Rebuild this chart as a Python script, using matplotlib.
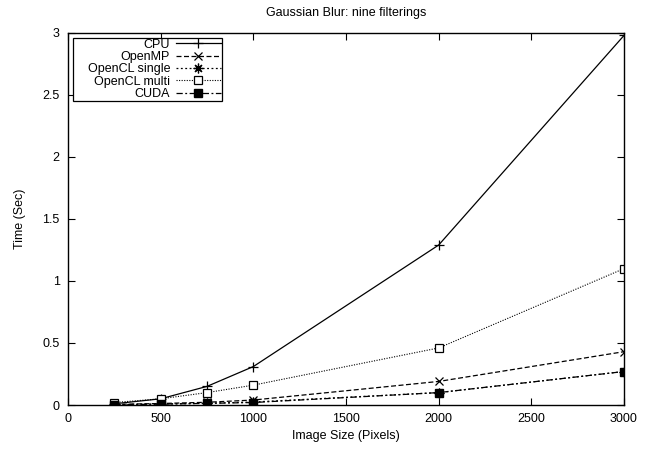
import matplotlib
matplotlib.use("Agg")
import matplotlib.pyplot as plt

plt.rcParams['font.family'] = ['Liberation Sans', 'DejaVu Sans']

sizes = [250, 500, 750, 1000, 2000, 3000]
cpu = [0.01, 0.05, 0.15, 0.31, 1.29, 2.98]
openmp = [0.005, 0.012, 0.022, 0.04, 0.19, 0.43]
ocl_single = [0.003, 0.008, 0.014, 0.024, 0.10, 0.27]
ocl_multi = [0.02, 0.05, 0.10, 0.16, 0.46, 1.10]
cuda = [0.002, 0.007, 0.013, 0.02, 0.10, 0.27]
labels = ['CPU', 'OpenMP', '    OpenCL single', 'OpenCL multi', 'CUDA']

fig = plt.figure(figsize=(6.5, 4.5), dpi=100)
ax = fig.add_axes([0.1046, 0.1, 0.8554, 0.8267])

ax.plot(sizes, cpu, color='black', lw=0.9, ls='-', marker='+', ms=7, mew=0.9, label=labels[0])
ax.plot(sizes, openmp, color='black', lw=0.9, ls=(0, (4, 2)), marker='x', ms=6, mew=0.9, label=labels[1])
ax.plot(sizes, ocl_single, color='black', lw=0.9, ls=(0, (1.5, 2)), marker=(8, 2, 0), ms=7, mew=0.9, label=labels[2])
ax.plot(sizes, ocl_multi, color='black', lw=0.8, ls=(0, (1, 1.3)), marker='s', ms=6, mfc='white', mew=0.9, label=labels[3])
ax.plot(sizes, cuda, color='black', lw=0.9, ls=(0, (5, 2, 1.5, 2)), marker='s', ms=6, label=labels[4])

ax.set_xlim(0, 3000)
ax.set_ylim(0, 3)
ax.set_xticks([0, 500, 1000, 1500, 2000, 2500, 3000])
ax.set_yticks([0, 0.5, 1, 1.5, 2, 2.5, 3])
ax.set_yticklabels(['0', '0.5', '1', '1.5', '2', '2.5', '3'])
ax.tick_params(direction='in', top=True, right=True, length=5, width=0.8, labelsize=9, pad=6)
for s in ax.spines.values():
    s.set_linewidth(1.0)

ax.set_xlabel('Image Size (Pixels)', fontsize=9, labelpad=3)
ax.set_ylabel('Time (Sec)', fontsize=9, labelpad=12)
ax.set_title('Gaussian Blur: nine filterings', fontsize=9, pad=12)

leg = ax.legend(loc='upper left', markerfirst=False, fontsize=9, frameon=True, fancybox=False,
                edgecolor='black', framealpha=1, borderaxespad=0.4, handlelength=3.6,
                labelspacing=0.03, borderpad=0.06, handletextpad=0.45)
leg.get_frame().set_linewidth(0.9)

fig.savefig('out.png', dpi=100)
